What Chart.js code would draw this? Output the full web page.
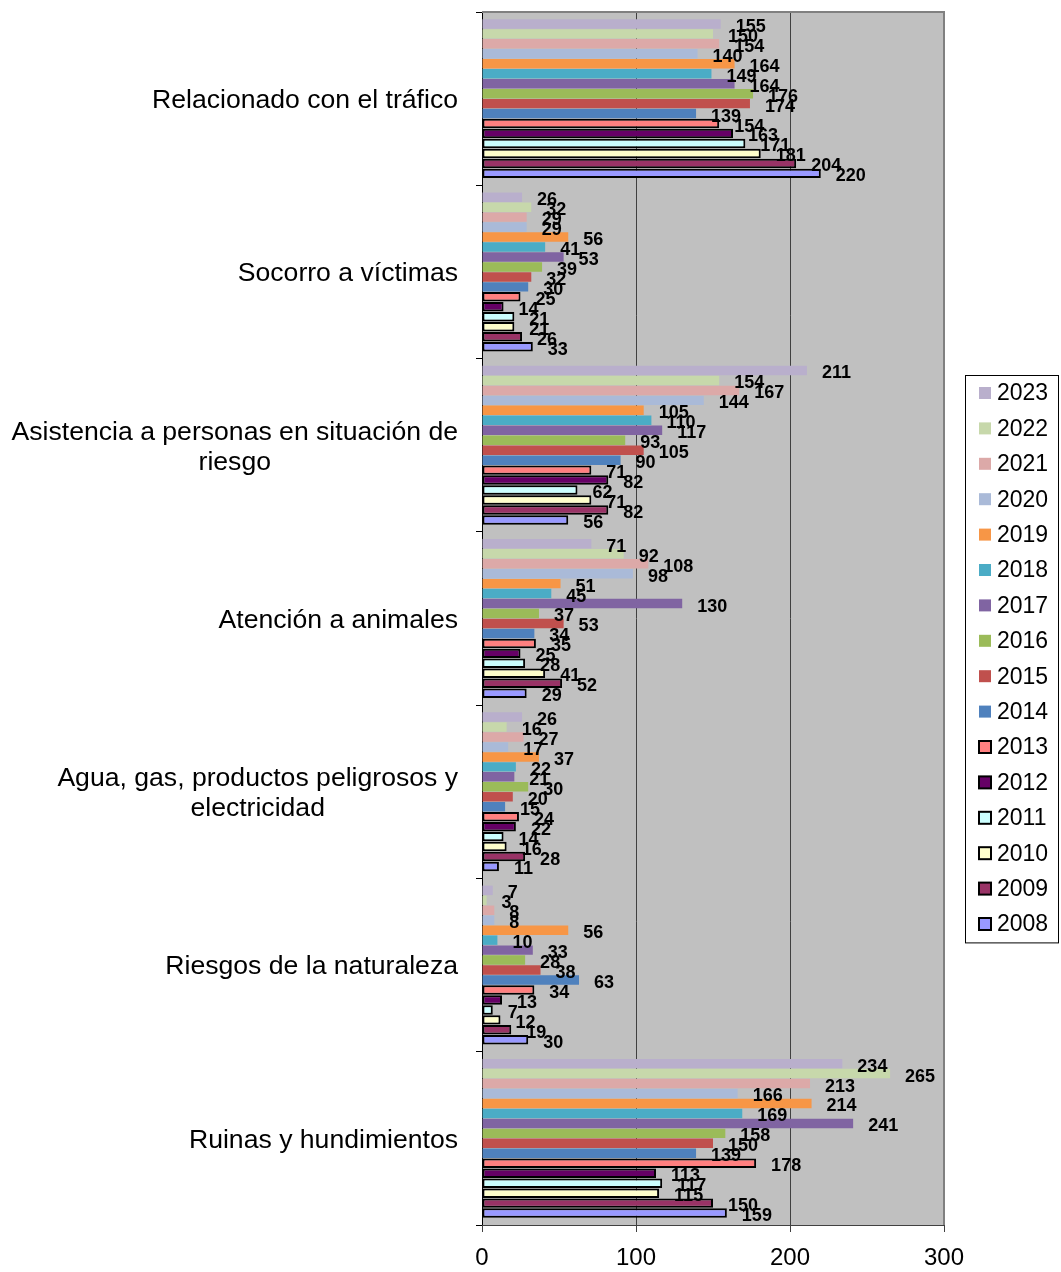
<!DOCTYPE html>
<html>
<head>
<meta charset="utf-8">
<script src="https://cdn.jsdelivr.net/npm/chart.js@4"></script>
<style>
  html, body { margin: 0; padding: 0; background: #fff; }
  #wrap { width: 1061px; height: 1272px; }
</style>
</head>
<body>
<div id="wrap"><canvas id="chart"></canvas></div>
<script>
// categories (multi-line labels as arrays)
const categories = [
  ["Relacionado con el tráfico"],
  ["Socorro a víctimas"],
  ["Asistencia a personas en situación de", "riesgo"],
  ["Atención a animales"],
  ["Agua, gas, productos peligrosos y", "electricidad"],
  ["Riesgos de la naturaleza"],
  ["Ruinas y hundimientos"]
];

const years = ["2023", "2022", "2021", "2020", "2019", "2018", "2017", "2016",
               "2015", "2014", "2013", "2012", "2011", "2010", "2009", "2008"];

// one array per year, same order as categories
const v2023 = [155, 26, 211, 71, 26, 7, 234];
const v2022 = [150, 32, 154, 92, 16, 3, 265];
const v2021 = [154, 29, 167, 108, 27, 8, 213];
const v2020 = [140, 29, 144, 98, 17, 8, 166];
const v2019 = [164, 56, 105, 51, 37, 56, 214];
const v2018 = [149, 41, 110, 45, 22, 10, 169];
const v2017 = [164, 53, 117, 130, 21, 33, 241];
const v2016 = [176, 39, 93, 37, 30, 28, 158];
const v2015 = [174, 32, 105, 53, 20, 38, 150];
const v2014 = [139, 30, 90, 34, 15, 63, 139];
const v2013 = [154, 25, 71, 35, 24, 34, 178];
const v2012 = [163, 14, 82, 25, 22, 13, 113];
const v2011 = [171, 21, 62, 28, 14, 7, 117];
const v2010 = [181, 21, 71, 41, 16, 12, 115];
const v2009 = [204, 26, 82, 52, 28, 19, 150];
const v2008 = [220, 33, 56, 29, 11, 30, 159];

const xTicks = [0, 100, 200, 300];

const values = [v2023, v2022, v2021, v2020, v2019, v2018, v2017, v2016,
                v2015, v2014, v2013, v2012, v2011, v2010, v2009, v2008];

const fills = ["#B9AFCC", "#C7D8AB", "#DCA9A8", "#AABAD8", "#F79646", "#4BACC6",
               "#8064A2", "#9BBB59", "#C0504D", "#4F81BD", "#FF8080", "#660066",
               "#CCFFFF", "#FFFFCC", "#993366", "#9999FF"];
// older years have a black outline
const outlined = [false, false, false, false, false, false, false, false,
                  false, false, true, true, true, true, true, true];

const FONT = "'Liberation Sans', Arial, sans-serif";

const datasets = years.map((y, i) => ({
  label: y,
  data: values[i],
  backgroundColor: fills[i],
  borderColor: "#000",
  borderWidth: outlined[i] ? 2 : 0,
  borderSkipped: false,
  categoryPercentage: 0.92,
  barPercentage: 0.95
}));

// grey plot background + frame
const plotArea = {
  id: "plotArea",
  beforeDraw(chart) {
    const { ctx, chartArea: a } = chart;
    ctx.save();
    ctx.fillStyle = "#C0C0C0";
    ctx.fillRect(a.left, a.top, a.right - a.left, a.bottom - a.top);
    ctx.restore();
  },
  afterDraw(chart) {
    const { ctx, chartArea: a } = chart;
    ctx.save();
    ctx.strokeStyle = "#808080";
    ctx.lineWidth = 2;
    ctx.beginPath();
    ctx.moveTo(a.left, a.top);
    ctx.lineTo(a.right, a.top);
    ctx.lineTo(a.right, a.bottom);
    ctx.stroke();
    ctx.restore();
  }
};

// category names: block right-aligned, lines centred inside the block
const catLabels = {
  id: "catLabels",
  afterDraw(chart) {
    const { ctx } = chart;
    const yScale = chart.scales.y;
    const right = yScale.right - 24;
    ctx.save();
    ctx.font = "26.6px " + FONT;
    ctx.fillStyle = "#000";
    ctx.textAlign = "center";
    ctx.textBaseline = "middle";
    categories.forEach((lines, i) => {
      const yc = yScale.getPixelForTick(i);
      const w = Math.max(...lines.map(l => ctx.measureText(l).width));
      const lh = 30;
      lines.forEach((l, k) => {
        ctx.fillText(l, right - w / 2, yc + 2 + (k - (lines.length - 1) / 2) * lh);
      });
    });
    ctx.restore();
  }
};

// value labels at the end of each bar
const valueLabels = {
  id: "valueLabels",
  afterDatasetsDraw(chart) {
    const { ctx } = chart;
    ctx.save();
    ctx.font = "bold 18px " + FONT;
    ctx.fillStyle = "#000";
    ctx.textAlign = "left";
    ctx.textBaseline = "middle";
    chart.data.datasets.forEach((ds, i) => {
      chart.getDatasetMeta(i).data.forEach((bar, j) => {
        ctx.fillText(String(ds.data[j]), bar.x + 15, bar.y + 3);
      });
    });
    ctx.restore();
  }
};

// boxed legend on the right
const boxLegend = {
  id: "boxLegend",
  afterDraw(chart) {
    const { ctx, chartArea: a } = chart;
    const x = a.right + 21, w = 93;
    const step = 35.4;
    const top = a.top + 363;
    const h = step * years.length + 1;
    ctx.save();
    ctx.fillStyle = "#fff";
    ctx.fillRect(x, top, w, h);
    ctx.strokeStyle = "#000";
    ctx.lineWidth = 1;
    ctx.strokeRect(x + 0.5, top + 0.5, w, h);
    ctx.font = "23px " + FONT;
    ctx.textBaseline = "middle";
    chart.data.datasets.forEach((ds, i) => {
      const yc = top + 18 + i * step;
      ctx.fillStyle = ds.backgroundColor;
      ctx.fillRect(x + 14, yc - 6, 12, 12);
      if (outlined[i]) {
        ctx.strokeStyle = "#000";
        ctx.lineWidth = 2;
        ctx.strokeRect(x + 14, yc - 6, 12, 12);
      }
      ctx.fillStyle = "#000";
      ctx.fillText(ds.label, x + 32, yc + 1);
    });
    ctx.restore();
  }
};

new Chart(document.getElementById("chart"), {
  type: "bar",
  data: { labels: categories, datasets: datasets },
  plugins: [plotArea, catLabels, valueLabels, boxLegend],
  options: {
    indexAxis: "y",
    responsive: true,
    maintainAspectRatio: false,
    animation: false,
    layout: { padding: { top: 12, right: 117, bottom: 0, left: 0 } },
    plugins: { legend: { display: false }, tooltip: { enabled: false } },
    scales: {
      y: {
        type: "category",
        ticks: { display: false },
        grid: { drawOnChartArea: false, color: "#000", tickLength: 6, offset: true },
        border: { color: "#000", width: 1 },
        afterFit(scale) { scale.width = 482; }
      },
      x: {
        min: 0,
        max: 300,
        afterBuildTicks(scale) { scale.ticks = xTicks.map(v => ({ value: v })); },
        ticks: { color: "#000", font: { family: FONT, size: 24 }, padding: 12, maxRotation: 0 },
        grid: { color: "#404040", lineWidth: 1, tickLength: 7 },
        border: { color: "#404040", width: 1 },
        afterFit(scale) { scale.height = 47; }
      }
    }
  }
});
</script>
</body>
</html>
